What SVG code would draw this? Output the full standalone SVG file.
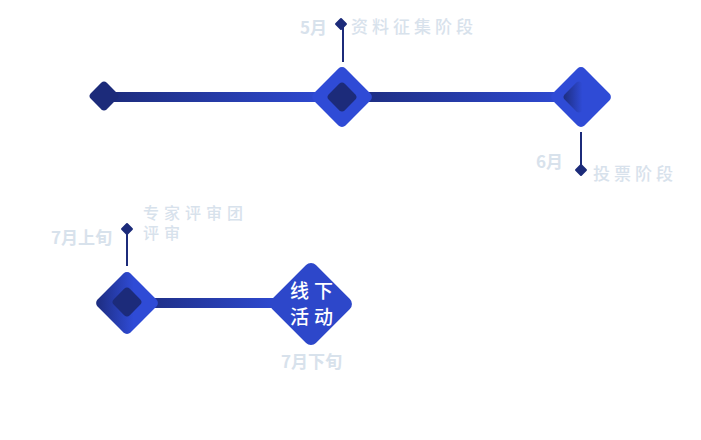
<svg xmlns="http://www.w3.org/2000/svg" width="701" height="440" viewBox="0 0 701 440">
<defs>
<linearGradient id="gLine" x1="0" y1="0" x2="1" y2="0"><stop offset="0" stop-color="#1c2b7a"/><stop offset="1" stop-color="#2f4bd6"/></linearGradient>
<linearGradient id="gDia" x1="0" y1="1" x2="1" y2="0"><stop offset="0" stop-color="#1c2b7a"/><stop offset="0.6" stop-color="#2f4bd6"/></linearGradient>
</defs>
<style>
.lbl{font-family:"Noto Sans CJK SC","Noto Sans",sans-serif;fill:#d8e2ec;font-size:17px;font-weight:bold}
.zh{font-family:"Noto Sans CJK SC","Noto Sans",sans-serif;fill:#d8e2ec;font-size:17px;font-weight:500;letter-spacing:4px}
.zs{font-family:"Noto Sans CJK SC","Noto Sans",sans-serif;fill:#d8e2ec;font-size:16px;font-weight:500;letter-spacing:5px}
.dark{fill:#1c2b7a}
.blue{fill:#2f4bd6}
.stem{stroke:#1c2b7a;stroke-width:2}
.wt{font-family:"Noto Sans CJK SC","Noto Sans",sans-serif;fill:#ffffff;font-size:19px;font-weight:500;letter-spacing:5px}
</style>
<g id="connectors">
<rect x="104" y="92" width="232" height="10" fill="url(#gLine)"/>
<rect x="342" y="92" width="230" height="10" fill="url(#gLine)"/>
<rect x="127" y="298" width="160" height="10" fill="url(#gLine)"/>
<line class="stem" x1="343" y1="26" x2="343" y2="62"/>
<line class="stem" x1="581" y1="132" x2="581" y2="168"/>
<line class="stem" x1="127" y1="231" x2="127" y2="266"/>
</g>
<g id="n-start">
<rect class="dark" x="-11.3" y="-11.3" width="22.6" height="22.6" rx="4" transform="translate(104 96) rotate(45)"/>
</g>
<g id="n-may">
<rect class="blue" x="-22.6" y="-22.6" width="45.2" height="45.2" rx="5" transform="translate(342 97) rotate(45)"/>
<rect class="dark" x="-11.3" y="-11.3" width="22.6" height="22.6" rx="4" transform="translate(342 97) rotate(45)"/>
<rect class="dark" x="-4.5" y="-4.5" width="9" height="9" rx="1" transform="translate(341 24) rotate(45)"/>
<text class="lbl" x="300" y="34">5月</text>
<text class="zh" x="351" y="33">资料征集阶段</text>
</g>
<g id="n-june">
<rect class="blue" x="-22.6" y="-22.6" width="45.2" height="45.2" rx="5" transform="translate(581 97) rotate(45)"/>
<rect fill="url(#gDia)" x="-12" y="-12" width="24" height="24" rx="4" transform="translate(579 97) rotate(45)"/>
<rect class="dark" x="-4.5" y="-4.5" width="9" height="9" rx="1" transform="translate(581 170) rotate(45)"/>
<text class="lbl" x="536" y="168">6月</text>
<text class="zh" x="593" y="180">投票阶段</text>
</g>
<g id="n-july1">
<rect fill="url(#gDia)" x="-23.3" y="-23.3" width="46.6" height="46.6" rx="5" transform="translate(127 303) rotate(45)"/>
<rect class="dark" x="-11.3" y="-11.3" width="22.6" height="22.6" rx="4" transform="translate(127 302) rotate(45)"/>
<rect class="dark" x="-4.5" y="-4.5" width="9" height="9" rx="1" transform="translate(127 229) rotate(45)"/>
<text class="lbl" x="51" y="244">7月上旬</text>
<text class="zs" x="143" y="219">专家评审团</text>
<text class="zs" x="143" y="239">评审</text>
</g>
<g id="n-july2">
<rect fill="#2d47ca" x="-31" y="-31" width="62" height="62" rx="7" transform="translate(311 304) rotate(45)"/>
<text class="wt" x="290" y="298">线下</text>
<text class="wt" x="290" y="324">活动</text>
<text class="lbl" x="281" y="368">7月下旬</text>
</g>
</svg>
